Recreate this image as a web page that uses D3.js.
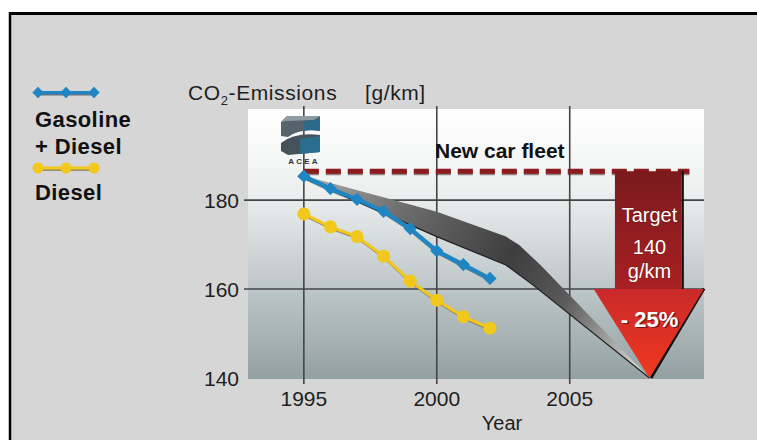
<!DOCTYPE html>
<html>
<head>
<meta charset="utf-8">
<script src="https://cdn.jsdelivr.net/npm/d3@7"></script>
<style>
  body { margin: 0; background: #fff; }
  text { font-family: "Liberation Sans", Arial, sans-serif; }
</style>
</head>
<body>
<div id="chart"></div>
<script>
// emissions by year (g/km)
let years = [1995, 1996, 1997, 1998, 1999, 2000, 2001, 2002];
let gas_diesel = [185.4, 182.6, 180.2, 177.5, 173.6, 168.6, 165.5, 162.4];
let diesel = [176.9, 174.0, 171.8, 167.4, 161.8, 157.5, 153.8, 151.2];

let y_ticks = [140, 160, 180];
let x_ticks = [1995, 2000, 2005];

// projected fleet band (upper / lower edge)
let band_upper = [[1995, 185.5], [2000, 177.4], [2002.6, 171.8], [2003.1, 169.9], [2003.9, 165.4], [2008, 140]];
let band_lower = [[1995, 185.0], [2000, 171.8], [2002.6, 165.4], [2003.6, 161.0], [2008, 140]];

let fleet_level = 186.5;
let target_year = 2008, target_value = 140;
let shaft_years = [2006.7, 2009.2];
let head_years = [2005.9, 2010.05];
let head_base = 160;

let W = 757, H = 440;

let svg = d3.select("#chart").append("svg")
    .attr("width", W)
    .attr("height", H);

let defs = svg.append("defs");

let bg = defs.append("linearGradient").attr("id", "plotbg")
    .attr("x1", 0).attr("y1", 0).attr("x2", 0).attr("y2", 1);
bg.append("stop").attr("offset", "0%").attr("stop-color", "#ffffff");
bg.append("stop").attr("offset", "30%").attr("stop-color", "#eef0f0");
bg.append("stop").attr("offset", "62%").attr("stop-color", "#c3cbcc");
bg.append("stop").attr("offset", "100%").attr("stop-color", "#93a1a4");

let x = d3.scaleLinear().domain([1992.9, 2010.05]).range([248, 704]);
let y = d3.scaleLinear().domain([140, 200.5]).range([378, 109]);

let bandg = defs.append("linearGradient").attr("id", "band")
    .attr("gradientUnits", "userSpaceOnUse")
    .attr("x1", x(1995)).attr("y1", y(186)).attr("x2", x(2008)).attr("y2", y(140));
bandg.append("stop").attr("offset", "0%").attr("stop-color", "#b0b0b0");
bandg.append("stop").attr("offset", "25%").attr("stop-color", "#6e6e6e");
bandg.append("stop").attr("offset", "55%").attr("stop-color", "#3e3e3e");
bandg.append("stop").attr("offset", "72%").attr("stop-color", "#5a5a5a");
bandg.append("stop").attr("offset", "100%").attr("stop-color", "#e4e4e4");

let shaftg = defs.append("linearGradient").attr("id", "shaft")
    .attr("x1", 0).attr("y1", 0).attr("x2", 0).attr("y2", 1);
shaftg.append("stop").attr("offset", "0%").attr("stop-color", "#7a1a1d");
shaftg.append("stop").attr("offset", "100%").attr("stop-color", "#a82022");

let headg = defs.append("linearGradient").attr("id", "head")
    .attr("x1", 0).attr("y1", 0).attr("x2", 0).attr("y2", 1);
headg.append("stop").attr("offset", "0%").attr("stop-color", "#c9292a");
headg.append("stop").attr("offset", "100%").attr("stop-color", "#f0381f");

// frame
svg.append("rect").attr("x", 10).attr("y", 13).attr("width", W - 10).attr("height", H - 13)
    .attr("fill", "#d6d6d6");
svg.append("line").attr("x1", 9).attr("x2", W).attr("y1", 13.5).attr("y2", 13.5)
    .attr("stroke", "#000").attr("stroke-width", 3);
svg.append("line").attr("x1", 10).attr("x2", 10).attr("y1", 12).attr("y2", H)
    .attr("stroke", "#000").attr("stroke-width", 2.5);

// plot area
svg.append("rect")
    .attr("x", x.range()[0]).attr("y", y.range()[1])
    .attr("width", x.range()[1] - x.range()[0])
    .attr("height", y.range()[0] - y.range()[1] + 1)
    .attr("fill", "url(#plotbg)");

let grid = svg.append("g").attr("stroke", "#454545").attr("stroke-width", 1.6);
grid.selectAll(".hy").data(y_ticks.filter(d => d > 140)).join("line")
    .attr("x1", x.range()[0] - 4).attr("x2", x.range()[1])
    .attr("y1", d => y(d)).attr("y2", d => y(d));
grid.selectAll(".vx").data(x_ticks).join("line")
    .attr("x1", d => x(d)).attr("x2", d => x(d))
    .attr("y1", y.range()[1] - 3).attr("y2", y.range()[0] + 6);

svg.append("g").selectAll("text").data(y_ticks).join("text")
    .attr("x", 239).attr("y", d => y(d)).attr("dy", "0.36em")
    .attr("text-anchor", "end").attr("font-size", 21).attr("fill", "#1e1e1e")
    .text(d => d);

svg.append("g").selectAll("text").data(x_ticks).join("text")
    .attr("x", d => x(d)).attr("y", 406)
    .attr("text-anchor", "middle").attr("font-size", 21).attr("fill", "#1e1e1e")
    .text(d => d);

svg.append("text").attr("x", 502).attr("y", 430).attr("text-anchor", "middle")
    .attr("font-size", 20).attr("fill", "#1e1e1e").text("Year");

let ytitle = svg.append("text").attr("x", 188).attr("y", 100)
    .attr("font-size", 21).attr("fill", "#1e1e1e").attr("letter-spacing", 0.6);
ytitle.append("tspan").text("CO");
ytitle.append("tspan").attr("font-size", 13).attr("dy", 5).text("2");
ytitle.append("tspan").attr("dy", -5).text("-Emissions");
svg.append("text").attr("x", 365).attr("y", 100)
    .attr("font-size", 21).attr("fill", "#1e1e1e").attr("letter-spacing", 0.6).text("[g/km]");

// projected band
let area_pts = band_upper.concat(band_lower.slice().reverse());
svg.append("path")
    .attr("d", d3.line().x(d => x(d[0])).y(d => y(d[1]))(area_pts) + "Z")
    .attr("fill", "url(#band)");
svg.append("path")
    .attr("d", d3.line().x(d => x(d[0])).y(d => y(d[1]))(band_lower))
    .attr("fill", "none").attr("stroke", "#1e1e1e").attr("stroke-width", 1.2);

// new car fleet dashed line
svg.append("line")
    .attr("x1", x(1995)).attr("x2", x(2009.5))
    .attr("y1", y(fleet_level) + 1.5).attr("y2", y(fleet_level) + 1.5)
    .attr("stroke", "#3a1010").attr("stroke-width", 5).attr("opacity", 0.5)
    .attr("stroke-dasharray", "15,7");
svg.append("line")
    .attr("x1", x(1995)).attr("x2", x(2009.5))
    .attr("y1", y(fleet_level)).attr("y2", y(fleet_level))
    .attr("stroke", "#8b1b1d").attr("stroke-width", 5)
    .attr("stroke-dasharray", "15,7");

svg.append("text").attr("x", 435).attr("y", 158)
    .attr("font-size", 21).attr("font-weight", "bold").attr("fill", "#111")
    .text("New car fleet");

// target arrow
svg.append("line")
    .attr("x1", x(shaft_years[1]) + 1.2).attr("x2", x(shaft_years[1]) + 1.2)
    .attr("y1", y(fleet_level)).attr("y2", y(head_base))
    .attr("stroke", "#111").attr("stroke-width", 2.5);
svg.append("rect")
    .attr("x", x(shaft_years[0])).attr("y", y(fleet_level))
    .attr("width", x(shaft_years[1]) - x(shaft_years[0]))
    .attr("height", y(head_base) - y(fleet_level))
    .attr("fill", "url(#shaft)");
svg.append("line")
    .attr("x1", x(head_years[1])).attr("y1", y(head_base) - 0.5)
    .attr("x2", x(target_year) + 1.5).attr("y2", y(target_value))
    .attr("stroke", "#111").attr("stroke-width", 3);
svg.append("path")
    .attr("d", d3.line()([[x(head_years[0]), y(head_base)], [x(head_years[1]), y(head_base)],
        [x(target_year), y(target_value)]]) + "Z")
    .attr("fill", "url(#head)");

let ax = x(target_year);
let arrow_txt = [["Target", 221.5, 20, "normal"], ["140", 253.5, 20, "normal"], ["g/km", 278, 20, "normal"]];
svg.append("g").selectAll("text").data(arrow_txt).join("text")
    .attr("x", ax).attr("y", d => d[1]).attr("text-anchor", "middle")
    .attr("font-size", d => d[2]).attr("fill", "#fff")
    .style("paint-order", "stroke").attr("stroke", "rgba(60,0,0,0.35)").attr("stroke-width", 1)
    .text(d => d[0]);
svg.append("text").attr("x", ax + 1.5).attr("y", 328).attr("text-anchor", "middle")
    .attr("font-size", 22).attr("font-weight", "bold").attr("fill", "#3a0a0a").attr("opacity", 0.6)
    .text("- 25%");
svg.append("text").attr("x", ax).attr("y", 326.5).attr("text-anchor", "middle")
    .attr("font-size", 22).attr("font-weight", "bold").attr("fill", "#fff")
    .text("- 25%");

// series
let series = [
    {name: "gas", vals: gas_diesel, color: "#1f86c4", shade: "#0d3550", width: 4},
    {name: "diesel", vals: diesel, color: "#f2c81c", shade: "#5a4a10", width: 3}
];
let line = d3.line().x(d => x(d[0])).y(d => y(d[1]));
let diamond = d3.symbol(d3.symbolSquare, 88);

series.forEach(s => {
    let pts = years.map((yr, i) => [yr, s.vals[i]]);
    svg.append("path").attr("d", line(pts)).attr("transform", "translate(1,1.5)")
        .attr("fill", "none").attr("stroke", s.shade).attr("stroke-width", s.width).attr("opacity", 0.55);
    svg.append("path").attr("d", line(pts))
        .attr("fill", "none").attr("stroke", s.color).attr("stroke-width", s.width);
    let g = svg.append("g");
    if (s.name == "gas") {
        g.selectAll("path").data(pts).join("path")
            .attr("d", diamond)
            .attr("transform", d => `translate(${x(d[0])},${y(d[1])}) rotate(45)`)
            .attr("fill", s.color);
    } else {
        g.selectAll("circle").data(pts).join("circle")
            .attr("cx", d => x(d[0])).attr("cy", d => y(d[1])).attr("r", 6.5)
            .attr("fill", s.color);
    }
});

// ACEA logo
let logo = svg.append("g");
logo.append("path").attr("d", "M281,122 L287,116 L320,116 L320,131 Q300,128 288,137 L281,136 Z").attr("fill", "#56636a");
logo.append("path").attr("d", "M281,122 L287,116 L320,116 L314,120 L286,121 Z").attr("fill", "#8e9ca2");
logo.append("path").attr("d", "M304,121 L320,119 L320,131 Q311,129 304,131 Z").attr("fill", "#2b6a89");
logo.append("path").attr("d", "M281,143 Q295,132 320,135 L320,152 L288,155 L281,151 Z").attr("fill", "#46535a");
logo.append("path").attr("d", "M300,139 L320,136 L320,152 L300,154 Z").attr("fill", "#2c6d8d");
svg.append("text").attr("x", 304).attr("y", 164).attr("text-anchor", "middle")
    .attr("font-size", 8).attr("font-weight", "bold").attr("letter-spacing", 2.2).attr("fill", "#333")
    .text("ACEA");

// legend
let leg = svg.append("g");
let lx = [38, 66, 94];
leg.append("line").attr("x1", 38).attr("x2", 94).attr("y1", 94).attr("y2", 94)
    .attr("stroke", "#0d3550").attr("stroke-width", 3).attr("opacity", 0.6);
leg.append("line").attr("x1", 38).attr("x2", 94).attr("y1", 92.5).attr("y2", 92.5)
    .attr("stroke", "#1f86c4").attr("stroke-width", 3);
leg.selectAll(".ld").data(lx).join("path")
    .attr("d", d3.symbol(d3.symbolSquare, 64))
    .attr("transform", d => `translate(${d},92.5) rotate(45)`)
    .attr("fill", "#1f86c4");
leg.append("line").attr("x1", 38).attr("x2", 94).attr("y1", 169.5).attr("y2", 169.5)
    .attr("stroke", "#5a4a10").attr("stroke-width", 3).attr("opacity", 0.5);
leg.append("line").attr("x1", 38).attr("x2", 94).attr("y1", 168).attr("y2", 168)
    .attr("stroke", "#f2c81c").attr("stroke-width", 3);
leg.selectAll(".lc").data(lx).join("circle")
    .attr("cx", d => d).attr("cy", 168).attr("r", 5.5).attr("fill", "#f2c81c");

let leg_txt = [["Gasoline", 127], ["+ Diesel", 154], ["Diesel", 200]];
leg.selectAll("text").data(leg_txt).join("text")
    .attr("x", 35).attr("y", d => d[1])
    .attr("font-size", 22).attr("font-weight", "bold").attr("letter-spacing", 0.4).attr("fill", "#111")
    .text(d => d[0]);
</script>
</body>
</html>
